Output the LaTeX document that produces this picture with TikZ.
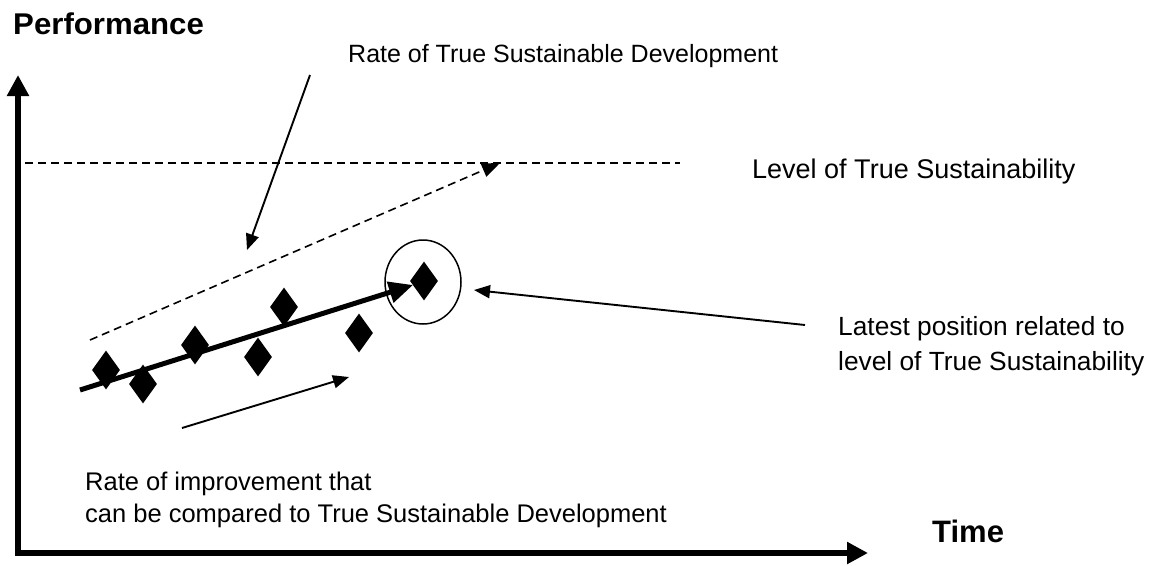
\documentclass[tikz,border=0pt]{standalone}
\usepackage{fontspec}
\setmainfont{Liberation Sans}
\usetikzlibrary{arrows.meta,shapes.geometric}
\begin{document}
\begin{tikzpicture}[x=1pt,y=-1pt,
  lbl/.style={anchor=base west,inner sep=0pt,font=\fontsize{25}{30}\selectfont},
  axlbl/.style={anchor=base west,inner sep=0pt,font=\fontsize{30}{36}\selectfont\bfseries},
  dia/.style={diamond,fill=black,draw=none,inner sep=0pt,minimum width=28pt,minimum height=39pt,aspect=0.7},
  axisln/.style={line width=6pt,-{Triangle[length=21pt,width=21pt]}},
  ptr/.style={line width=1.9pt,-{Triangle[length=16pt,width=13pt]}},
  dashln/.style={line width=1.6pt,dash pattern=on 8pt off 5pt}
]
\useasboundingbox (0,0) rectangle (1155,565);
% axes
\coordinate (o) at (18,553);
\coordinate (ytip) at (18,75);
\coordinate (xtip) at (868,553);
\draw[axisln] (18,556) -- (ytip);
\draw[axisln] (15,553) -- (xtip);
% labels
\node[axlbl,xscale=1.04] (perf) at (13,34) {Performance};
\node[axlbl,font=\fontsize{31}{37}\selectfont\bfseries] (time) at (932,542) {Time};
\node[lbl] (rtsd) at (348,62) {Rate of True Sustainable Development};
\node[lbl,font=\fontsize{27}{33}\selectfont] (lts) at (752,178) {Level of True Sustainability};
\node[lbl,font=\fontsize{26.3}{32}\selectfont] (lp1) at (838,335) {Latest position related to};
\node[lbl,font=\fontsize{26.3}{32}\selectfont] (lp2) at (838,370) {level of True Sustainability};
\node[lbl,font=\fontsize{25.5}{30}\selectfont] (ri1) at (85,490) {Rate of improvement that};
\node[lbl,font=\fontsize{25.5}{30}\selectfont] (ri2) at (85,522) {can be compared to True Sustainable Development};
% level line
\coordinate (l0) at (25,163);
\coordinate (l1) at (680,163);
\draw[dashln] (l0) -- (l1);
% true sustainable development dashed arrow
\coordinate (d0) at (90,340);
\coordinate (d1) at (500,163);
\draw[dashln,-{Triangle[length=18pt,width=14pt]}] (d0) -- (d1);
% pointer to dashed line
\coordinate (p0) at (310,75);
\coordinate (p1) at (247,250);
\draw[ptr] (p0) -- (p1);
% diamonds
\node[dia] (m1) at (106,370) {};
\node[dia] (m2) at (143,384) {};
\node[dia] (m3) at (195,345) {};
\node[dia] (m4) at (258,357) {};
\node[dia] (m5) at (284,307) {};
\node[dia] (m6) at (359,333) {};
\node[dia] (m7) at (424,281) {};
% circle
\node[ellipse,draw,line width=1.5pt,minimum width=76pt,minimum height=84pt,inner sep=0pt] (circ) at (423,282) {};
% thick trend arrow
\coordinate (t0) at (80,390);
\coordinate (t1) at (413,285);
\draw[line width=5pt,-{Triangle[length=24pt,width=21pt]}] (t0) -- (t1);
% pointer to circle
\coordinate (c0) at (805,325);
\coordinate (c1) at (474,290);
\draw[ptr] (c0) -- (c1);
% improvement arrow
\coordinate (i0) at (182,428);
\coordinate (i1) at (349,377);
\draw[ptr] (i0) -- (i1);
\end{tikzpicture}
\end{document}
